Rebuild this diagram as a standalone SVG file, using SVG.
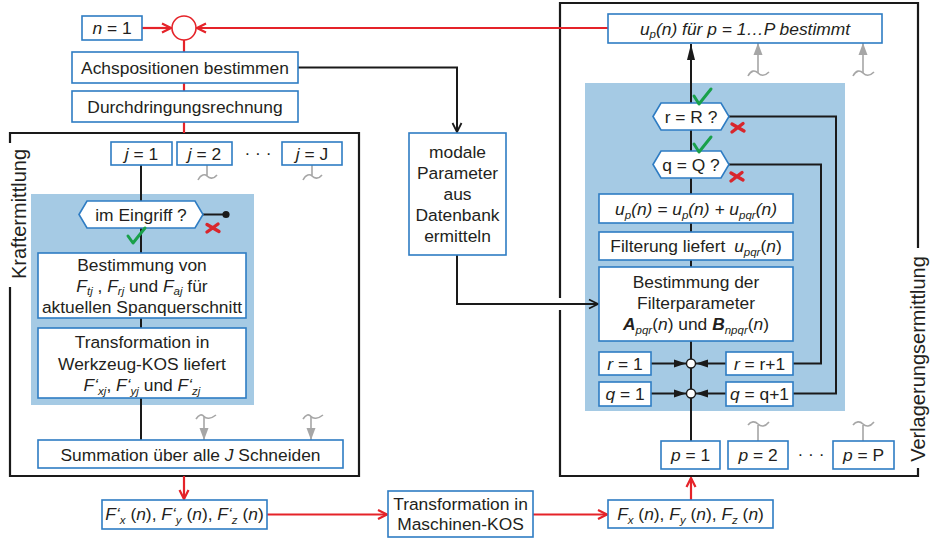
<svg xmlns="http://www.w3.org/2000/svg" width="932" height="538" viewBox="0 0 932 538">
  <style>
    .bx { fill: #fff; stroke: #2e7cc3; stroke-width: 1.6; }
    .t { font-family: "Liberation Sans", Arial, sans-serif; font-size: 17.4px; fill: #231f20; text-anchor: middle; }
    .lbl { font-family: "Liberation Sans", Arial, sans-serif; font-size: 20px; fill: #231f20; text-anchor: middle; }
    .i { font-style: italic; }
    .b { font-weight: bold; }
    .s { font-size: 11.5px; }
    .red { stroke: #e52329; stroke-width: 2.2; fill: none; }
    .blk { stroke: #1a1a1a; stroke-width: 2; fill: none; }
    .frame { stroke: #1a1a1a; stroke-width: 2.2; fill: none; }
    .gry { stroke: #a6a6a6; stroke-width: 1.6; fill: none; }
    .shade { fill: #a5cae4; }
    .ok { stroke: #19a04a; stroke-width: 3; fill: none; stroke-linecap: round; stroke-linejoin: round; }
    .no { stroke: #d8262c; stroke-width: 3.4; fill: none; stroke-linecap: round; }
  </style>
  <defs>
    <marker id="arRed" markerUnits="userSpaceOnUse" viewBox="0 0 12 12" refX="11" refY="6" markerWidth="12" markerHeight="12" orient="auto">
      <path d="M2,1.5 L11,6 L2,10.5" fill="none" stroke="#e52329" stroke-width="2.2"/>
    </marker>
    <marker id="arBlk" markerUnits="userSpaceOnUse" viewBox="0 0 12 12" refX="11" refY="6" markerWidth="12" markerHeight="12" orient="auto">
      <path d="M2,1.5 L11,6 L2,10.5" fill="none" stroke="#1a1a1a" stroke-width="1.8"/>
    </marker>
    <marker id="arFill" markerUnits="userSpaceOnUse" viewBox="0 0 12 10" refX="12" refY="5" markerWidth="12" markerHeight="10" orient="auto">
      <path d="M0,1 L12,5 L0,9 z" fill="#1a1a1a"/>
    </marker>
    <marker id="arUp" markerUnits="userSpaceOnUse" viewBox="0 0 16 10" refX="16" refY="5" markerWidth="16" markerHeight="10" orient="auto">
      <path d="M0,1 L16,5 L0,9 z" fill="#1a1a1a"/>
    </marker>
    <marker id="arGry" markerUnits="userSpaceOnUse" viewBox="0 0 12 10" refX="12" refY="5" markerWidth="12" markerHeight="10" orient="auto">
      <path d="M0,0.5 L12,5 L0,9.5 z" fill="#a6a6a6"/>
    </marker>
  </defs>

  <!-- frames with rotated labels -->
  <g id="frame-kraft">
    <path class="frame" d="M10,143 V133 H359 V476 H10 V287"/>
    <text class="lbl" transform="translate(26,214) rotate(-90)">Kraftermittlung</text>
  </g>
  <g id="frame-verlagerung">
    <path class="frame" d="M918,248 V3 H560 V298"/>
    <path class="frame" d="M560,310 V476 H918 V468"/>
    <text class="lbl" transform="translate(924.5,359) rotate(-90)">Verlagerungsermittlung</text>
  </g>

  <!-- shaded loop regions -->
  <rect class="shade" x="31" y="194" width="223" height="211"/>
  <rect class="shade" x="585" y="83" width="260" height="328"/>

  <!-- connectors -->
  <g id="connectors">
    <path class="red" d="M142,28 H171" marker-end="url(#arRed)"/>
    <path class="red" d="M608,28 H197" marker-end="url(#arRed)"/>
    <path class="red" d="M184,40 V133"/>
    <path class="blk" d="M298,67.5 H457 V132" marker-end="url(#arBlk)"/>
    <path class="blk" d="M457,255 V304 H598" marker-end="url(#arBlk)"/>
    <path class="blk" d="M141,165 V440"/>
    <path class="blk" d="M203,214.5 H225"/>
    <circle cx="226" cy="214.5" r="3.6" fill="#1a1a1a"/>
    <path class="red" d="M184,476 V499" marker-end="url(#arRed)"/>
    <path class="red" d="M267,514.5 H387" marker-end="url(#arRed)"/>
    <path class="red" d="M533,514.5 H607" marker-end="url(#arRed)"/>
    <path class="red" d="M691,500 V478" marker-end="url(#arRed)"/>
    <path class="blk" d="M691,441 V44" marker-end="url(#arUp)"/>
    <path class="blk" d="M729,116.5 H836 V393.5 H793"/>
    <path class="blk" d="M729,164.5 H821 V363.5 H793"/>
    <path class="blk" d="M651,363.5 H686" marker-end="url(#arFill)"/>
    <path class="blk" d="M726,363.5 H696" marker-end="url(#arFill)"/>
    <path class="blk" d="M651,393.5 H686" marker-end="url(#arFill)"/>
    <path class="blk" d="M726,393.5 H696" marker-end="url(#arFill)"/>
    <circle cx="691" cy="363.5" r="4.5" fill="#fff" stroke="#1a1a1a" stroke-width="1.4"/>
    <circle cx="691" cy="393.5" r="4.5" fill="#fff" stroke="#1a1a1a" stroke-width="1.4"/>
    <!-- grey continuation marks -->
    <path class="gry" d="M207,165 V176 M198,180 C201,174 205,174 207,176 C209,178 213,180 217,175"/>
    <path class="gry" d="M312,165 V176 M303,180 C306,174 310,174 312,176 C314,178 318,180 322,175"/>
    <path class="gry" d="M196,419 C199,414 202,414 204,416.5 C206,419 211,419 216,415"/>
    <path class="gry" d="M204,416.5 V440" marker-end="url(#arGry)"/>
    <path class="gry" d="M303,419 C306,414 309,414 311,416.5 C313,419 318,419 323,415"/>
    <path class="gry" d="M311,416.5 V440" marker-end="url(#arGry)"/>
    <path class="gry" d="M748,76 C751,70 755,70 758,73 C761,76 765,76 769,72"/>
    <path class="gry" d="M758,73 V43" marker-end="url(#arGry)"/>
    <path class="gry" d="M853,76 C856,70 860,70 863,73 C866,76 870,76 874,72"/>
    <path class="gry" d="M863,73 V43" marker-end="url(#arGry)"/>
    <path class="gry" d="M758,441 V425 M748,425 C751,421 755,421 758,424 C761,427 765,427 769,422"/>
    <path class="gry" d="M863,441 V425 M853,425 C856,421 860,421 863,424 C866,427 870,427 874,422"/>
  </g>

  <!-- start merge point -->
  <g id="merge">
    <circle cx="184" cy="28" r="12" fill="#fff" stroke="#e52329" stroke-width="1.6"/>
  </g>

  <g id="n1">
    <rect class="bx" x="82" y="16" width="60" height="24"/>
    <text class="t" x="112" y="34"><tspan class="i">n</tspan> = 1</text>
  </g>
  <g id="achspositionen">
    <rect class="bx" x="72" y="52" width="226" height="31"/>
    <text class="t" x="185" y="73.5">Achspositionen bestimmen</text>
  </g>
  <g id="durchdringung">
    <rect class="bx" x="72" y="91" width="226" height="31"/>
    <text class="t" x="185" y="112.5">Durchdringungsrechnung</text>
  </g>
  <g id="modale-parameter">
    <rect class="bx" x="409" y="133" width="97" height="122"/>
    <text class="t" x="457.5" y="158">modale</text>
    <text class="t" x="457.5" y="179">Parameter</text>
    <text class="t" x="457.5" y="200">aus</text>
    <text class="t" x="457.5" y="221">Datenbank</text>
    <text class="t" x="457.5" y="242">ermitteln</text>
  </g>

  <!-- cutting edges -->
  <g id="j1">
    <rect class="bx" x="111" y="142" width="61" height="23"/>
    <text class="t" x="141.5" y="160"><tspan class="i">j</tspan> = 1</text>
  </g>
  <g id="j2">
    <rect class="bx" x="177" y="142" width="55" height="23"/>
    <text class="t" x="204.5" y="160"><tspan class="i">j</tspan> = 2</text>
  </g>
  <text class="t" x="258" y="159">· · ·</text>
  <g id="jJ">
    <rect class="bx" x="282" y="142" width="60" height="23"/>
    <text class="t" x="312" y="160"><tspan class="i">j</tspan> = J</text>
  </g>

  <g id="im-eingriff">
    <polygon class="bx" points="79,214.5 87,201 195,201 203,214.5 195,228 87,228"/>
    <text class="t" x="141" y="220.5">im Eingriff ?</text>
    <path class="ok" d="M128,236 L133,243 L145,228"/>
    <path class="no" d="M207,224.5 L219,231.5 M207,232 L218,224"/>
  </g>
  <g id="bestimmung-von">
    <rect class="bx" x="38" y="253" width="208" height="65"/>
    <text class="t" x="142" y="271">Bestimmung von</text>
    <text class="t" x="142" y="291.5"><tspan class="i">F</tspan><tspan class="s i" dy="3.5">tj</tspan><tspan dy="-3.5"> , </tspan><tspan class="i">F</tspan><tspan class="s i" dy="3.5">rj</tspan><tspan dy="-3.5"> und </tspan><tspan class="i">F</tspan><tspan class="s i" dy="3.5">aj</tspan><tspan dy="-3.5"> für</tspan></text>
    <text class="t" x="142" y="313">aktuellen Spanquerschnitt</text>
  </g>
  <g id="transformation-wkz">
    <rect class="bx" x="38" y="328" width="208" height="70"/>
    <text class="t" x="142" y="348">Transformation in</text>
    <text class="t" x="142" y="370">Werkzeug-KOS liefert</text>
    <text class="t" x="142" y="391"><tspan class="i">F‘</tspan><tspan class="s i" dy="3.5">xj</tspan><tspan dy="-3.5">, </tspan><tspan class="i">F‘</tspan><tspan class="s i" dy="3.5">yj</tspan><tspan dy="-3.5"> und </tspan><tspan class="i">F‘</tspan><tspan class="s i" dy="3.5">zj</tspan></text>
  </g>
  <g id="summation">
    <rect class="bx" x="38" y="440" width="305" height="28"/>
    <text class="t" x="190.5" y="460.5">Summation über alle <tspan class="i">J</tspan> Schneiden</text>
  </g>
  <g id="f-werkzeug">
    <rect class="bx" x="102" y="500" width="165" height="29"/>
    <text class="t" x="184.5" y="520"><tspan class="i">F‘</tspan><tspan class="s i" dy="3.5">x</tspan><tspan dy="-3.5"> (</tspan><tspan class="i">n</tspan>), <tspan class="i">F‘</tspan><tspan class="s i" dy="3.5">y</tspan><tspan dy="-3.5"> (</tspan><tspan class="i">n</tspan>), <tspan class="i">F‘</tspan><tspan class="s i" dy="3.5">z</tspan><tspan dy="-3.5"> (</tspan><tspan class="i">n</tspan>)</text>
  </g>
  <g id="transformation-maschine">
    <rect class="bx" x="388" y="491" width="145" height="46"/>
    <text class="t" x="460.5" y="510">Transformation in</text>
    <text class="t" x="460.5" y="530">Maschinen-KOS</text>
  </g>
  <g id="f-maschine">
    <rect class="bx" x="608" y="500" width="165" height="28"/>
    <text class="t" x="690.5" y="520"><tspan class="i">F</tspan><tspan class="s i" dy="3.5">x</tspan><tspan dy="-3.5"> (</tspan><tspan class="i">n</tspan>), <tspan class="i">F</tspan><tspan class="s i" dy="3.5">y</tspan><tspan dy="-3.5"> (</tspan><tspan class="i">n</tspan>), <tspan class="i">F</tspan><tspan class="s i" dy="3.5">z</tspan><tspan dy="-3.5"> (</tspan><tspan class="i">n</tspan>)</text>
  </g>

  <!-- displacement branch -->
  <g id="up-bestimmt">
    <rect class="bx" x="608" y="14" width="274" height="29"/>
    <text class="t i" x="745" y="34.5">u<tspan class="s" dy="3.5">p</tspan><tspan dy="-3.5">(n) für p = 1…P bestimmt</tspan></text>
  </g>
  <g id="r-eq-R">
    <polygon class="bx" points="653,116.5 661,103 721,103 729,116.5 721,130 661,130"/>
    <text class="t" x="691" y="122.5">r = R ?</text>
    <path class="ok" d="M694,96 L699,104 L711,89"/>
    <path class="no" d="M732,124 L744,131 M732,132 L743,123.5"/>
  </g>
  <g id="q-eq-Q">
    <polygon class="bx" points="653,164.5 661,151 721,151 729,164.5 721,178 661,178"/>
    <text class="t" x="691" y="170.5">q = Q ?</text>
    <path class="ok" d="M694,144 L699,152 L711,137"/>
    <path class="no" d="M731,173 L743,180 M731,181 L742,172.5"/>
  </g>
  <g id="up-sum">
    <rect class="bx" x="599" y="194" width="194" height="29"/>
    <text class="t i" x="696" y="215">u<tspan class="s" dy="3.5">p</tspan><tspan dy="-3.5">(n) = u</tspan><tspan class="s" dy="3.5">p</tspan><tspan dy="-3.5">(n) + u</tspan><tspan class="s" dy="3.5">pqr</tspan><tspan dy="-3.5">(n)</tspan></text>
  </g>
  <g id="filterung">
    <rect class="bx" x="599" y="232" width="194" height="28"/>
    <text class="t" x="696" y="252">Filterung liefert <tspan class="i" dx="4">u</tspan><tspan class="s i" dy="3.5">pqr</tspan><tspan dy="-3.5">(</tspan><tspan class="i">n</tspan>)</text>
  </g>
  <g id="filterparameter">
    <rect class="bx" x="599" y="267" width="194" height="74"/>
    <text class="t" x="696" y="288">Bestimmung der</text>
    <text class="t" x="696" y="309">Filterparameter</text>
    <text class="t" x="696" y="330"><tspan class="i b">A</tspan><tspan class="s i" dy="3.5">pqr</tspan><tspan dy="-3.5">(</tspan><tspan class="i">n</tspan>) und <tspan class="i b">B</tspan><tspan class="s i" dy="3.5">npqr</tspan><tspan dy="-3.5">(</tspan><tspan class="i">n</tspan>)</text>
  </g>
  <g id="r1">
    <rect class="bx" x="599" y="352" width="52" height="23"/>
    <text class="t" x="625" y="370"><tspan class="i">r</tspan> = 1</text>
  </g>
  <g id="r-inc">
    <rect class="bx" x="726" y="352" width="67" height="23"/>
    <text class="t" x="759.5" y="370"><tspan class="i">r</tspan> = r+1</text>
  </g>
  <g id="q1">
    <rect class="bx" x="599" y="382" width="52" height="24"/>
    <text class="t" x="625" y="400"><tspan class="i">q</tspan> = 1</text>
  </g>
  <g id="q-inc">
    <rect class="bx" x="726" y="382" width="67" height="24"/>
    <text class="t" x="759.5" y="400"><tspan class="i">q</tspan> = q+1</text>
  </g>
  <g id="p1">
    <rect class="bx" x="661" y="441" width="59" height="28"/>
    <text class="t" x="690.5" y="461"><tspan class="i">p</tspan> = 1</text>
  </g>
  <g id="p2">
    <rect class="bx" x="728" y="441" width="60" height="28"/>
    <text class="t" x="758" y="461"><tspan class="i">p</tspan> = 2</text>
  </g>
  <text class="t" x="811" y="460">· · ·</text>
  <g id="pP">
    <rect class="bx" x="833" y="441" width="61" height="28"/>
    <text class="t" x="863.5" y="461"><tspan class="i">p</tspan> = P</text>
  </g>
</svg>
